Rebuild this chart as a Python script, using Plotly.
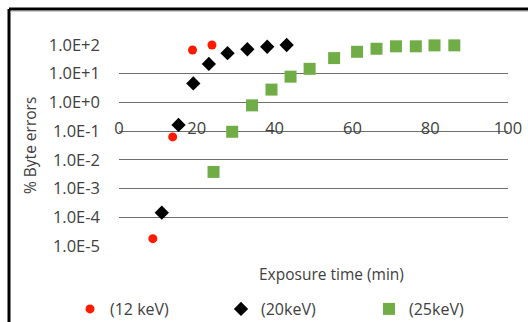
import plotly.graph_objects as go

# ---- data ----
x_12 = [8.7, 13.8, 18.9, 23.9]
y_12 = [1.8e-5, 0.063, 67, 100]

x_20 = [11.0, 15.3, 19.1, 23.1, 27.9, 33.0, 38.1, 43.1]
y_20 = [1.45e-4, 0.165, 4.6, 22, 52, 71, 87, 100]

x_25 = [24.3, 29.1, 34.2, 39.2, 44.1, 49.0, 55.3, 61.2, 66.2, 71.2, 76.3, 81.1, 86.2]
y_25 = [0.0038, 0.095, 0.79, 2.8, 7.9, 14.8, 35, 58, 74, 90, 90, 97, 97]

series_names = ["(12 keV)", "(20keV)", "(25keV)"]
y_tickvals = [1e-5, 1e-4, 1e-3, 1e-2, 1e-1, 1e0, 1e1, 1e2]
y_ticktext = ["1.0E-5", "1.0E-4", "1.0E-3", "1.0E-2", "1.0E-1", "1.0E+0", "1.0E+1", "1.0E+2"]
x_tickvals = [0, 20, 40, 60, 80, 100]

FONT = "Open Sans"
TXT = "#404040"

W, H = 528, 322
L, R, T, B = 119, 20, 45, 76
PW, PH = W - L - R, H - T - B


def px(xp):
    return (xp - L) / PW


def py(yp):
    return (H - B - yp) / PH


fig = go.Figure()
fig.add_trace(go.Scatter(x=x_12, y=y_12, mode="markers", name=series_names[0], legend="legend",
                         cliponaxis=False,
                         marker=dict(symbol="circle", size=9, color="#FF1A00")))
fig.add_trace(go.Scatter(x=x_20, y=y_20, mode="markers", name=series_names[1], legend="legend2",
                         cliponaxis=False,
                         marker=dict(symbol="diamond", size=11, color="#000000")))
fig.add_trace(go.Scatter(x=x_25, y=y_25, mode="markers", name=series_names[2], legend="legend3",
                         cliponaxis=False,
                         marker=dict(symbol="square", size=12, color="#70AD47")))

leg = dict(orientation="h", xanchor="left", y=py(309), yanchor="middle",
           font=dict(size=16, color=TXT), itemwidth=30, bgcolor="rgba(0,0,0,0)")

fig.update_layout(
    width=W, height=H,
    margin=dict(l=L, r=R, t=T, b=B, autoexpand=False),
    paper_bgcolor="white", plot_bgcolor="white",
    font=dict(family=FONT, size=16, color=TXT),
    showlegend=True,
    legend=dict(leg, x=px(70)),
    legend2=dict(leg, x=px(221)),
    legend3=dict(leg, x=px(369)),
    xaxis=dict(range=[0, 100], tickvals=x_tickvals, showgrid=False, zeroline=False,
               showline=False, ticks="", anchor="free", position=4 / 7,
               ticklabelstandoff=-15, tickfont=dict(size=16.5, color=TXT)),
    yaxis=dict(type="log", range=[-5, 2], tickvals=y_tickvals, ticktext=y_ticktext,
               showgrid=True, gridcolor="#6e6e6e", gridwidth=1, zeroline=False,
               showline=False, ticks="", ticklabelstandoff=18,
               tickfont=dict(size=16.5, color=TXT)),
    annotations=[
        dict(text="Exposure time (min)", x=px(331), y=py(274), xref="paper", yref="paper",
             showarrow=False, font=dict(size=15.5, color=TXT), xanchor="center", yanchor="middle"),
        dict(text="% Byte errors", x=px(30), y=py(146), xref="paper", yref="paper",
             showarrow=False, textangle=-90, font=dict(size=15.5, color=TXT),
             xanchor="center", yanchor="middle"),
    ],
    shapes=[
        dict(type="line", xref="paper", yref="paper", x0=px(9), x1=px(540), y0=py(9), y1=py(9),
             line=dict(color="black", width=3)),
        dict(type="line", xref="paper", yref="paper", x0=px(9), x1=px(9), y0=py(9), y1=py(340),
             line=dict(color="black", width=3)),
        dict(type="line", xref="paper", yref="paper", x0=px(11), x1=px(540), y0=py(11.5), y1=py(11.5),
             line=dict(color="#d0d0d0", width=1)),
    ],
)

fig.write_html("out.html", config={"displayModeBar": False},
               post_script="document.body.style.margin='0';")
